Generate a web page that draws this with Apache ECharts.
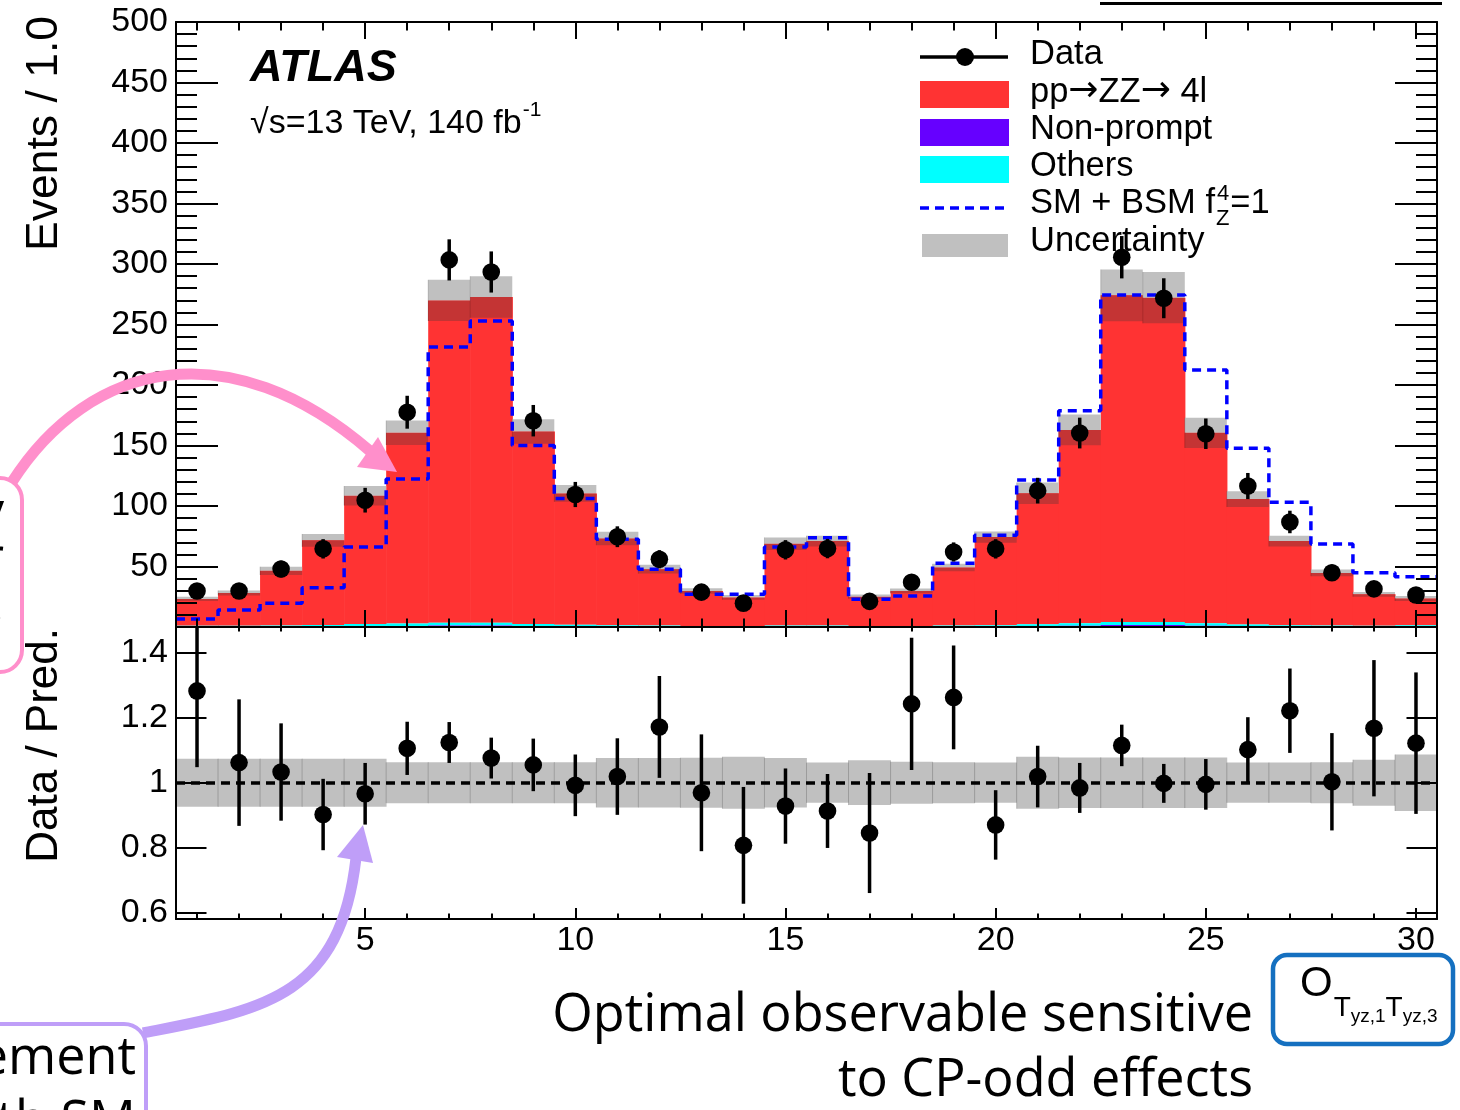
<!DOCTYPE html>
<html>
<head>
<meta charset="utf-8">
<script src="https://cdn.jsdelivr.net/npm/echarts@6/dist/echarts.min.js"></script>
<style>
  html, body { margin: 0; padding: 0; background: #fff; }
  #chart { width: 1460px; height: 1110px; }
</style>
</head>
<body>
<div id="chart"></div>
<script>
// ---- Histogram content (30 bins of width 1.0, centred on the integers) ----
const bins = [1, 2, 3, 4, 5, 6, 7, 8, 9, 10, 11, 12, 13, 14, 15,
              16, 17, 18, 19, 20, 21, 22, 23, 24, 25, 26, 27, 28, 29, 30];
const xMajorTicks = [5, 10, 15, 20, 25, 30];
const ratioTicks = [0.6, 0.8, 1, 1.2, 1.4];

// Observed events and their statistical errors
const dataEvents = [29.8, 29.8, 47.9, 64.6, 104.8, 177.5, 303.4, 293.4, 170.5, 109.5,
                    74.6, 56.0, 28.8, 19.7, 63.8, 64.8, 21.2, 37.0, 62.0, 64.6,
                    112.7, 160.3, 305.6, 271.7, 159.7, 116.5, 86.8, 44.8, 31.5, 26.5];
const dataErr = [5.5, 5.5, 6.9, 8.0, 10.2, 13.6, 17.0, 17.0, 13.0, 10.4,
                 8.6, 7.5, 5.4, 4.4, 8.0, 8.0, 4.6, 6.1, 7.9, 8.0,
                 10.6, 12.7, 17.5, 16.5, 12.6, 10.8, 9.3, 6.7, 5.6, 5.1];

// Stacked prediction: pp -> ZZ -> 4l, non-prompt, others
const zzPred = [22.2, 27.1, 45.1, 70.0, 106.1, 157.7, 266.4, 269.2, 159.2, 108.6,
                71.8, 46.6, 28.8, 23.5, 67.6, 69.8, 24.2, 28.9, 47.9, 72.9,
                108.4, 159.9, 269.9, 268.0, 157.5, 103.7, 69.5, 43.5, 26.0, 22.2];
const nonPrompt = [0.2, 0.2, 0.3, 0.4, 0.8, 0.9, 1.2, 1.2, 0.7, 0.5,
                   0.4, 0.3, 0.2, 0.2, 0.3, 0.3, 0.2, 0.2, 0.3, 0.4,
                   0.8, 1.1, 1.6, 1.6, 1.0, 0.6, 0.4, 0.3, 0.2, 0.6];
const others = [0.8, 0.8, 1.0, 1.2, 1.6, 1.9, 2.3, 2.3, 1.7, 1.3,
                1.0, 0.9, 0.7, 0.7, 0.9, 0.9, 0.7, 0.7, 0.9, 1.0,
                1.4, 1.9, 2.6, 2.6, 2.0, 1.4, 1.1, 0.9, 0.8, 0.8];

// SM + BSM (f_Z^4 = 1) expectation
const smBsm = [6.6, 14.0, 19.6, 32.5, 66.1, 122.3, 231.4, 252.9, 149.9, 106.3,
               72.6, 47.7, 27.0, 27.0, 66.1, 73.8, 22.9, 25.6, 52.6, 75.8,
               121.5, 178.8, 274.4, 274.4, 212.4, 147.7, 103.0, 68.6, 44.9, 41.6];

// Relative uncertainty of the prediction (half-width of the band)
const relUnc = [0.074, 0.074, 0.074, 0.074, 0.074, 0.063, 0.063, 0.063, 0.063, 0.063,
                0.076, 0.076, 0.077, 0.080, 0.076, 0.062, 0.069, 0.065, 0.063, 0.062,
                0.080, 0.078, 0.078, 0.078, 0.078, 0.062, 0.062, 0.063, 0.071, 0.087];

// Data / prediction ratio and its error
const ratio = [1.283, 1.062, 1.033, 0.902, 0.966, 1.106, 1.124, 1.076, 1.055, 0.992,
               1.019, 1.172, 0.969, 0.807, 0.928, 0.913, 0.845, 1.243, 1.263, 0.870,
               1.019, 0.984, 1.115, 0.998, 0.995, 1.102, 1.222, 1.003, 1.168, 1.122];
const ratioErr = [0.235, 0.195, 0.150, 0.110, 0.095, 0.082, 0.063, 0.063, 0.081, 0.095,
                  0.118, 0.157, 0.180, 0.180, 0.116, 0.114, 0.185, 0.204, 0.160, 0.107,
                  0.095, 0.077, 0.064, 0.060, 0.078, 0.100, 0.130, 0.150, 0.210, 0.218];

// ---- Styling ----
const FONT = '"Liberation Sans", Arial, Helvetica, sans-serif';
const ANNOT_FONT = '"Open Sans", "Noto Sans", sans-serif';
const RED = '#ff3333', DARK_RED = '#c43434', PURPLE = '#6600ff', CYAN = '#00ffff';
const BAND_GRAY = '#c0c0c0', BLUE = '#0000ff';
const PINK = '#ff8fcb', LAVENDER = '#bf9ef8', BOX_BLUE = '#1570c0';
const TICK_FS = 34, LEG_FS = 34.5;

const mctx = document.createElement('canvas').getContext('2d');
function textWidth(str, size, family, weight, style) {
  mctx.font = (style || 'normal') + ' ' + (weight || 'normal') + ' ' + size + 'px ' + family;
  return mctx.measureText(str).width;
}

// ---- Series rows ----
const stackRows = bins.map((b, i) => [b, nonPrompt[i], others[i], zzPred[i], relUnc[i]]);
const dataRows = bins.map((b, i) => [b, dataEvents[i], dataErr[i]]);
const ratioRows = bins.map((b, i) => [b, ratio[i], ratioErr[i]]);
const ratioBandRows = bins.map((b, i) => [b, relUnc[i]]);
// step outline: each bin starts at its lower edge, last point closes the final bin
const bsmLine = bins.map((b, i) => [b - 0.5, smBsm[i]]).concat([[bins[bins.length - 1] + 0.5, smBsm[smBsm.length - 1]]]);

function binEdges(api, x) {
  return [api.coord([x - 0.5, 1])[0], api.coord([x + 0.5, 1])[0]];
}

function renderStack(params, api) {
  const x = api.value(0);
  const a = api.value(1), b = api.value(2), c = api.value(3);
  const [xl, xr] = binEdges(api, x);
  const w = xr - xl + 0.6;
  const y0 = api.coord([x, 0])[1];
  const y1 = api.coord([x, a])[1];
  const y2 = api.coord([x, a + b])[1];
  const y3 = api.coord([x, a + b + c])[1];
  return {
    type: 'group',
    children: [
      { type: 'rect', shape: { x: xl, y: y3, width: w, height: y2 - y3 }, style: { fill: RED } },
      { type: 'rect', shape: { x: xl, y: y2, width: w, height: y1 - y2 }, style: { fill: CYAN } },
      { type: 'rect', shape: { x: xl, y: y1, width: w, height: y0 - y1 }, style: { fill: PURPLE } }
    ]
  };
}

function renderUpperBand(params, api) {
  const x = api.value(0);
  const tot = api.value(1) + api.value(2) + api.value(3);
  const rel = api.value(4);
  const [xl, xr] = binEdges(api, x);
  const yT = api.coord([x, tot])[1];
  const yHi = api.coord([x, tot * (1 + rel)])[1];
  const yLo = api.coord([x, tot * (1 - rel)])[1];
  const children = [
    { type: 'rect', shape: { x: xl, y: yHi, width: xr - xl, height: yT - yHi }, style: { fill: BAND_GRAY } },
    { type: 'rect', shape: { x: xl, y: yT, width: xr - xl, height: yLo - yT }, style: { fill: DARK_RED } }
  ];
  if (params.dataIndex > 0) {
    children.push({ type: 'line', shape: { x1: xl, y1: yHi, x2: xl, y2: yLo },
                    style: { stroke: 'rgba(0,0,0,0.18)', lineWidth: 1 } });
  }
  return { type: 'group', children };
}

function renderRatioBand(params, api) {
  const x = api.value(0);
  const rel = api.value(1);
  const [xl, xr] = binEdges(api, x);
  const yHi = api.coord([x, 1 + rel])[1];
  const yLo = api.coord([x, 1 - rel])[1];
  const children = [
    { type: 'rect', shape: { x: xl, y: yHi, width: xr - xl + 0.4, height: yLo - yHi }, style: { fill: BAND_GRAY } }
  ];
  if (params.dataIndex > 0) {
    children.push({ type: 'line', shape: { x1: xl, y1: yHi, x2: xl, y2: yLo },
                    style: { stroke: 'rgba(0,0,0,0.2)', lineWidth: 1 } });
  }
  return { type: 'group', children };
}

function renderPoints(params, api) {
  const x = api.value(0), v = api.value(1), e = api.value(2);
  const cs = params.coordSys;
  const p = api.coord([x, v]);
  const top = Math.max(api.coord([x, v + e])[1], cs.y);
  const bot = Math.min(api.coord([x, v - e])[1], cs.y + cs.height);
  return {
    type: 'group',
    children: [
      { type: 'line', shape: { x1: p[0], y1: top, x2: p[0], y2: bot }, style: { stroke: '#000', lineWidth: 3.5 } },
      { type: 'circle', shape: { cx: p[0], cy: p[1], r: 8.8 }, style: { fill: '#000' } }
    ]
  };
}

// ---- Axes ----
const tickLine = { color: '#000', width: 2 };
function xAxisDef(grid, pos, values, len, withLine, withLabels) {
  return {
    type: 'value', gridIndex: grid, position: pos, min: 0.5, max: 30.5, z: 10,
    axisLine: { show: withLine, onZero: false, lineStyle: { color: '#000', width: 2 } },
    axisTick: { show: true, inside: true, length: len, customValues: values, lineStyle: tickLine },
    axisLabel: withLabels ? {
      show: true, customValues: xMajorTicks, margin: 5, color: '#000',
      fontSize: TICK_FS, fontFamily: FONT
    } : { show: false },
    splitLine: { show: false }
  };
}

const xAxes = [
  xAxisDef(0, 'bottom', xMajorTicks, 17, true, false),
  xAxisDef(0, 'bottom', bins, 8.5, false, false),
  xAxisDef(0, 'top', xMajorTicks, 17, true, false),
  xAxisDef(0, 'top', bins, 8.5, false, false),
  xAxisDef(1, 'bottom', xMajorTicks, 11, true, true),
  xAxisDef(1, 'bottom', bins, 5.5, false, false),
  xAxisDef(1, 'top', xMajorTicks, 10, true, false),
  xAxisDef(1, 'top', bins, 4.5, false, false)
];

function upperY(pos, labels) {
  return {
    type: 'value', gridIndex: 0, position: pos, min: 0, max: 500, interval: 50, z: 10,
    axisLine: { show: true, onZero: false, lineStyle: { color: '#000', width: 2 } },
    axisTick: { show: true, inside: true, length: 42, lineStyle: tickLine },
    minorTick: { show: true, splitNumber: 5, length: 21, lineStyle: tickLine },
    axisLabel: labels ? {
      show: true, margin: 8, color: '#000', fontSize: TICK_FS, fontFamily: FONT,
      showMinLabel: false, showMaxLabel: true
    } : { show: false },
    splitLine: { show: false }
  };
}
function lowerY(pos, labels) {
  return {
    type: 'value', gridIndex: 1, position: pos, min: 0.58, max: 1.48, z: 10,
    axisLine: { show: true, onZero: false, lineStyle: { color: '#000', width: 2 } },
    axisTick: { show: true, inside: true, length: 30.5, customValues: ratioTicks, lineStyle: tickLine },
    axisLabel: labels ? {
      show: true, customValues: ratioTicks, margin: 8, color: '#000', fontSize: TICK_FS, fontFamily: FONT,
      formatter: v => String(Math.round(v * 10) / 10)
    } : { show: false },
    splitLine: { show: false }
  };
}

// ---- Legend, labels and annotations ----
const LX = 1030;
const bsmLabelW = textWidth('SM + BSM f', LEG_FS, FONT);
const supW = textWidth('4', 22, FONT);

const titleSize = 50 * 701 / textWidth('Optimal observable sensitive', 50, ANNOT_FONT);

const oW = textWidth('O', 42, FONT);
const tW = textWidth('T', 28, FONT);
const s1W = textWidth('yz,1', 19, FONT);
const oX = 1300;
const t1X = oX + oW + 1;
const s1X = t1X + tW;
const t2X = s1X + s1W;
const s2X = t2X + tW;

const rootW = textWidth('\u221As=13 TeV, 140 fb', 34, FONT);

function txt(text, x, y, size, styleExtra, elExtra) {
  return Object.assign({
    type: 'text', z: 1,
    style: Object.assign({
      text: text, x: x, y: y, fill: '#000', fontSize: size, fontFamily: FONT,
      align: 'left', verticalAlign: 'middle'
    }, styleExtra || {})
  }, elExtra || {});
}
function vtxt(text, x, y, size) {
  // vertical title reading bottom-to-top, its end anchored at (x, y)
  return {
    type: 'text', z: 1, x: x, y: y, rotation: Math.PI / 2,
    style: { text: text, x: 0, y: 0, fill: '#000', fontSize: size, fontFamily: FONT,
             align: 'right', verticalAlign: 'middle' }
  };
}

const arrowRich = {
  t: { fontSize: LEG_FS, fontFamily: FONT, fill: '#000' },
  a: { fontSize: 36, fontFamily: '"DejaVu Sans", sans-serif', fill: '#000' }
};

const graphics = [
  // axis titles
  vtxt('Events / 1.0', 45, 16, 44.5),
  vtxt('Data / Pred.', 45, 628, 44),
  // experiment label
  txt('ATLAS', 250, 68.5, 45, { fontWeight: 'bold', fontStyle: 'italic' }),
  txt('\u221As=13 TeV, 140 fb', 250, 123.5, 34),
  txt('-1', 250 + rootW + 1, 110, 21),
  // legend
  { type: 'line', z: 1, shape: { x1: 920, y1: 57, x2: 1008, y2: 57 }, style: { stroke: '#000', lineWidth: 3.5 } },
  { type: 'circle', z: 1, shape: { cx: 965, cy: 57, r: 9 }, style: { fill: '#000' } },
  txt('Data', LX, 54.5, LEG_FS),
  { type: 'rect', z: 1, shape: { x: 920, y: 81, width: 89, height: 27 }, style: { fill: RED } },
  txt('{t|pp}{a|\u2192}{t|ZZ}{a|\u2192}{t| 4l}', LX, 92, LEG_FS, { rich: arrowRich }),
  { type: 'rect', z: 1, shape: { x: 920, y: 119, width: 89, height: 27 }, style: { fill: PURPLE } },
  txt('Non-prompt', LX, 129, LEG_FS),
  { type: 'rect', z: 1, shape: { x: 920, y: 156, width: 89, height: 27 }, style: { fill: CYAN } },
  txt('Others', LX, 166.5, LEG_FS),
  { type: 'line', z: 1, shape: { x1: 920, y1: 208, x2: 1006, y2: 208 },
    style: { stroke: BLUE, lineWidth: 3.5, lineDash: [9, 6] } },
  txt('SM + BSM f', LX, 203.5, LEG_FS),
  txt('4', LX + bsmLabelW + 2, 194, 22),
  txt('Z', LX + bsmLabelW + 1, 219, 22),
  txt('=1', LX + bsmLabelW + supW + 3, 203.5, LEG_FS),
  { type: 'rect', z: 1, shape: { x: 922, y: 234, width: 86, height: 23 }, style: { fill: BAND_GRAY } },
  txt('Uncertainty', LX, 241.5, LEG_FS),
  // top-right rule
  { type: 'line', z: 1, shape: { x1: 1100, y1: 3.5, x2: 1442, y2: 3.5 }, style: { stroke: '#000', lineWidth: 3 } },
  // x-axis title
  txt('Optimal observable sensitive', 1253, 1016, titleSize, { align: 'right', fontFamily: ANNOT_FONT }),
  txt('to CP-odd effects', 1253, 1081, titleSize, { align: 'right', fontFamily: ANNOT_FONT }),
  // observable name box
  { type: 'rect', z: 1, shape: { x: 1273, y: 955, width: 180, height: 89, r: 14 },
    style: { fill: 'none', stroke: BOX_BLUE, lineWidth: 4.5 } },
  txt('O', oX, 984, 42),
  txt('T', t1X, 1008, 28),
  txt('yz,1', s1X, 1017, 19),
  txt('T', t2X, 1008, 28),
  txt('yz,3', s2X, 1017, 19),
  // pink call-out
  { type: 'rect', z: 100, shape: { x: -200, y: 478, width: 222, height: 194, r: 22 },
    style: { fill: 'none', stroke: PINK, lineWidth: 4 } },
  txt('CP-odd asymmetry\nwould appear\nas shape change.', 4, 560, titleSize,
      { align: 'right', fontFamily: ANNOT_FONT, lineHeight: 46 }, { z: 100 }),
  { type: 'bezierCurve', z: 100,
    shape: { x1: 12, y1: 482, cpx1: 90, cpy1: 360, cpx2: 230, cpy2: 330, x2: 370, y2: 451 },
    style: { fill: 'none', stroke: PINK, lineWidth: 11 } },
  { type: 'polygon', z: 100, shape: { points: [[397, 472], [378, 437], [357, 467]] },
    style: { fill: PINK } },
  // lavender call-out
  { type: 'rect', z: 100, shape: { x: -200, y: 1024, width: 346, height: 200, r: 22 },
    style: { fill: 'none', stroke: LAVENDER, lineWidth: 4 } },
  txt('Measurement\nconsistent with SM', 136, 1091, titleSize,
      { align: 'right', fontFamily: ANNOT_FONT, lineHeight: 64 }, { z: 100 }),
  { type: 'bezierCurve', z: 100,
    shape: { x1: 143, y1: 1033, cpx1: 260, cpy1: 1010, cpx2: 340, cpy2: 1000, x2: 356, y2: 858 },
    style: { fill: 'none', stroke: LAVENDER, lineWidth: 11 } },
  { type: 'polygon', z: 100, shape: { points: [[363, 825], [337, 857], [373, 863]] },
    style: { fill: LAVENDER } }
];

const option = {
  backgroundColor: '#fff',
  animation: false,
  grid: [
    { left: 176, right: 23, top: 22, height: 605, containLabel: false, outerBoundsMode: 'none' },
    { left: 176, right: 23, top: 627, height: 292, containLabel: false, outerBoundsMode: 'none' }
  ],
  xAxis: xAxes,
  yAxis: [upperY('left', true), upperY('right', false), lowerY('left', true), lowerY('right', false)],
  series: [
    { type: 'custom', name: 'prediction', xAxisIndex: 0, yAxisIndex: 0, z: 2,
      renderItem: renderStack, data: stackRows, silent: true },
    { type: 'custom', name: 'uncertainty', xAxisIndex: 0, yAxisIndex: 0, z: 3,
      renderItem: renderUpperBand, data: stackRows, silent: true },
    { type: 'line', name: 'SM + BSM', xAxisIndex: 0, yAxisIndex: 0, z: 4,
      step: 'end', symbol: 'none', data: bsmLine, silent: true,
      lineStyle: { color: BLUE, width: 3.5, type: [9, 6] } },
    { type: 'custom', name: 'Data', xAxisIndex: 0, yAxisIndex: 0, z: 6,
      renderItem: renderPoints, data: dataRows, silent: true },
    { type: 'custom', name: 'ratio band', xAxisIndex: 4, yAxisIndex: 2, z: 2,
      renderItem: renderRatioBand, data: ratioBandRows, silent: true },
    { type: 'line', name: 'unity', xAxisIndex: 4, yAxisIndex: 2, z: 3, data: [], silent: true,
      markLine: { silent: true, symbol: 'none', label: { show: false },
                  lineStyle: { color: '#000', width: 3.5, type: [9, 6] },
                  data: [{ yAxis: 1 }] } },
    { type: 'custom', name: 'ratio', xAxisIndex: 4, yAxisIndex: 2, z: 6,
      renderItem: renderPoints, data: ratioRows, silent: true }
  ],
  graphic: { elements: graphics }
};

const chart = echarts.init(document.getElementById('chart'), null, { renderer: 'canvas', width: 1460, height: 1110 });
chart.setOption(option);
</script>
</body>
</html>
